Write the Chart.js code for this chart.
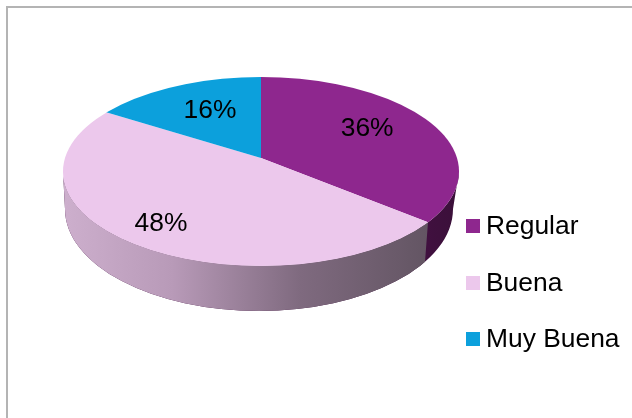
<!DOCTYPE html>
<html>
<head>
<meta charset="utf-8">
<script src="https://cdn.jsdelivr.net/npm/chart.js@4"></script>
<style>
  html, body { margin:0; padding:0; background:#fff; }
  canvas { display:block; }
</style>
</head>
<body>
<canvas id="pie" width="632" height="418"></canvas>
<script>
const categories = ['Regular', 'Buena', 'Muy Buena'];
const shares     = [36, 48, 16];
const sliceColors = ['#8E278E', '#ECC8EC', '#0CA0DC'];

// ---- Fake 3D geometry (pixels on the page) ----
const TOP    = { x:261, y:171.5, rx:198, ry:94.5 };   // top face ellipse
const BOTTOM = { x:259, y:209,   rx:194, ry:102 };    // bottom rim ellipse
const APEX   = { x:261, y:158 };                      // where the slices meet
const SQUASH = { x:1.15, y:0.535 };

// where each % label sits: distance from the apex in unsquashed pie units, plus a y nudge
const LABEL_DIST  = [102, 148, 92];
const LABEL_NUDGE = [-6, 2, -4];
const FONT = '"Liberation Sans", Arial, sans-serif';

// point where a slice edge (arc angle) hits the top ellipse
function rimPoint(angle) {
  const dx = Math.cos(angle) * SQUASH.x, dy = Math.sin(angle) * SQUASH.y;
  const oy = APEX.y - TOP.y;
  const a = dx*dx/(TOP.rx*TOP.rx) + dy*dy/(TOP.ry*TOP.ry);
  const b = 2*oy*dy/(TOP.ry*TOP.ry);
  const c = oy*oy/(TOP.ry*TOP.ry) - 1;
  const t = (-b + Math.sqrt(b*b - 4*a*c)) / (2*a);
  return { x: APEX.x + dx*t, y: APEX.y + dy*t };
}

function sidePath(ctx) {
  ctx.beginPath();
  ctx.ellipse(TOP.x, TOP.y, TOP.rx, TOP.ry, 0, 0, Math.PI);
  ctx.ellipse(BOTTOM.x, BOTTOM.y, BOTTOM.rx, BOTTOM.ry, 0, Math.PI, 0, true);
  ctx.closePath();
}

const pie3d = {
  id: 'pie3d',
  beforeDraw(chart) {
    const ctx = chart.ctx;
    ctx.save();
    ctx.fillStyle = '#b4b4b4';
    ctx.fillRect(6, 6, 626, 2);
    ctx.fillRect(6, 6, 2, 412);
    ctx.restore();
  },
  beforeDatasetsDraw(chart) {
    const ctx = chart.ctx;
    const arc = chart.getDatasetMeta(0).data[0];

    // side wall, split where the Regular slice ends
    const p = rimPoint(arc.endAngle);
    const qx = p.x - 3;
    const qy = BOTTOM.y + BOTTOM.ry * Math.sqrt(1 - Math.pow((qx - BOTTOM.x) / BOTTOM.rx, 2));

    const left = ctx.createLinearGradient(TOP.x - TOP.rx, 0, p.x, 0);
    left.addColorStop(0,    '#CDAFCD');
    left.addColorStop(0.3,  '#B89AB8');
    left.addColorStop(0.65, '#7F6A7F');
    left.addColorStop(1,    '#635563');
    const right = ctx.createLinearGradient(p.x, 0, TOP.x + TOP.rx, 0);
    right.addColorStop(0, '#40103F');
    right.addColorStop(1, '#3A1039');

    ctx.save();
    sidePath(ctx);
    ctx.clip();
    ctx.fillStyle = right;
    ctx.fillRect(0, 0, 632, 418);
    ctx.beginPath();
    ctx.moveTo(0, 0);
    ctx.lineTo(p.x, 0);
    ctx.lineTo(p.x, p.y);
    ctx.lineTo(qx, qy);
    ctx.lineTo(qx, 418);
    ctx.lineTo(0, 418);
    ctx.closePath();
    ctx.fillStyle = left;
    ctx.fill();
    ctx.restore();

    // top face: the library's pie, squashed and clipped to the ellipse
    ctx.save();
    ctx.beginPath();
    ctx.ellipse(TOP.x, TOP.y, TOP.rx, TOP.ry, 0, 0, Math.PI * 2);
    ctx.clip();
    ctx.translate(APEX.x, APEX.y);
    ctx.scale(SQUASH.x, SQUASH.y);
    ctx.translate(-arc.x, -arc.y);
  },
  afterDatasetsDraw(chart) {
    const ctx = chart.ctx;
    ctx.restore();

    // % labels
    ctx.save();
    ctx.font = '26.4px ' + FONT;
    ctx.fillStyle = '#000';
    ctx.textAlign = 'center';
    ctx.textBaseline = 'middle';
    chart.getDatasetMeta(0).data.forEach((arc, i) => {
      const mid = (arc.startAngle + arc.endAngle) / 2;
      const x = APEX.x + Math.cos(mid) * LABEL_DIST[i] * SQUASH.x;
      const y = APEX.y + Math.sin(mid) * LABEL_DIST[i] * SQUASH.y + LABEL_NUDGE[i];
      ctx.fillText(shares[i] + '%', x, y);
    });

    // legend
    ctx.textAlign = 'left';
    categories.forEach((name, i) => {
      const y = 226 + i * 56.5;
      ctx.fillStyle = sliceColors[i];
      ctx.fillRect(466, Math.round(y - 7), 14, 14);
      ctx.fillStyle = '#000';
      ctx.fillText(name, 486, y + 1);
    });
    ctx.restore();
  }
};

new Chart(document.getElementById('pie'), {
  type: 'pie',
  data: {
    labels: categories,
    datasets: [{ data: shares, backgroundColor: sliceColors, borderWidth: 0, clip: false }],
  },
  options: {
    responsive: false,
    animation: false,
    plugins: {
      legend: { display: false },
      tooltip: { enabled: false },
    },
  },
  plugins: [pie3d],
});
</script>
</body>
</html>
